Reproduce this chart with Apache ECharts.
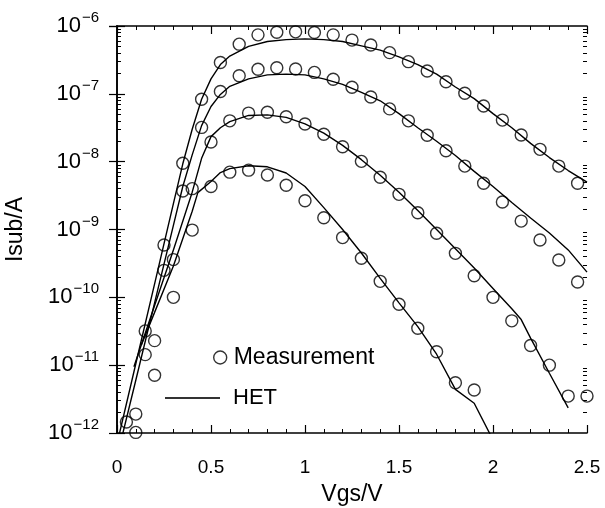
<!DOCTYPE html>
<html>
<head>
<meta charset="utf-8">
<script src="https://cdn.jsdelivr.net/npm/echarts@6/dist/echarts.min.js"></script>
<style>
html,body{margin:0;padding:0;background:#fff;}
#chart{width:605px;height:508px;}
</style>
</head>
<body>
<div id="chart"></div>
<script>
// ---- Measurement data (Vgs in V, Isub in A) ----
const measX1 = [0.05,0.15,0.25,0.35,0.45,0.55,0.65,0.75,0.85,0.95,1.05,1.15,1.25,1.35,1.45,1.55,1.65,1.75,1.85,1.95,2.05,2.15,2.25,2.35,2.45];
const meas1 = [1.45e-12,3.2e-11,5.9e-10,9.5e-9,8.3e-8,2.9e-7,5.4e-7,7.4e-7,8.1e-7,8.2e-7,8.0e-7,7.4e-7,6.2e-7,5.25e-7,4.05e-7,2.98e-7,2.17e-7,1.51e-7,1.02e-7,6.6e-8,4.1e-8,2.47e-8,1.52e-8,8.6e-9,4.8e-9];
const measX2 = [0.15,0.25,0.35,0.45,0.55,0.65,0.75,0.85,0.95,1.05,1.15,1.25,1.35,1.45,1.55,1.65,1.75,1.85,1.95,2.05,2.15,2.25,2.35,2.45];
const meas2 = [1.43e-11,2.5e-10,3.7e-9,3.2e-8,1.08e-7,1.85e-7,2.3e-7,2.43e-7,2.32e-7,2.07e-7,1.64e-7,1.25e-7,9.0e-8,6.0e-8,4.0e-8,2.45e-8,1.45e-8,8.6e-9,4.8e-9,2.54e-9,1.33e-9,7.0e-10,3.55e-10,1.68e-10];
const measX3 = [0.1,0.2,0.3,0.4,0.5,0.6,0.7,0.8,0.9,1.0,1.1,1.2,1.3,1.4,1.5,1.6,1.7,1.8,1.9,2.0,2.1,2.2,2.3,2.4,2.5];
const meas3 = [1.9e-12,2.3e-11,3.6e-10,4.0e-9,1.95e-8,4.0e-8,5.2e-8,5.35e-8,4.6e-8,3.6e-8,2.53e-8,1.66e-8,1.01e-8,5.9e-9,3.3e-9,1.77e-9,8.8e-10,4.45e-10,2.08e-10,1.0e-10,4.5e-11,1.95e-11,1.0e-11,3.5e-12,3.5e-12];
const measX4 = [0.1,0.2,0.3,0.4,0.5,0.6,0.7,0.8,0.9,1.0,1.1,1.2,1.3,1.4,1.5,1.6,1.7,1.8,1.9];
const meas4 = [1.02e-12,7.1e-12,1.0e-10,9.8e-10,4.3e-9,7.0e-9,7.5e-9,6.35e-9,4.5e-9,2.66e-9,1.49e-9,7.6e-10,3.76e-10,1.72e-10,7.9e-11,3.5e-11,1.58e-11,5.5e-12,4.3e-12];

// ---- HET model curves ----
const hetX1 = [0.0,0.1,0.2,0.3,0.35,0.4,0.45,0.5,0.55,0.6,0.7,0.8,0.9,1.0,1.1,1.2,1.3,1.4,1.5,1.6,1.7,1.8,1.9,2.0,2.1,2.2,2.3,2.4,2.5];
const het1  = [6.9e-13,1.05e-11,1.58e-10,2.4e-9,9.3e-9,3.0e-8,8.3e-8,1.66e-7,2.7e-7,3.6e-7,5.0e-7,5.9e-7,6.3e-7,6.45e-7,6.3e-7,5.9e-7,5.1e-7,4.4e-7,3.5e-7,2.7e-7,1.95e-7,1.26e-7,8.5e-8,5.1e-8,3.16e-8,1.86e-8,1.15e-8,7.4e-9,5.0e-9];
const hetX2 = [0.0,0.1,0.2,0.3,0.35,0.4,0.45,0.5,0.55,0.6,0.7,0.8,0.9,1.0,1.1,1.2,1.3,1.4,1.5,1.6,1.7,1.8,1.9,2.0,2.1,2.2,2.3,2.4,2.5];
const het2  = [4.4e-13,6.0e-12,8.3e-11,1.15e-9,4.3e-9,1.26e-8,3.4e-8,6.5e-8,9.8e-8,1.29e-7,1.66e-7,1.9e-7,1.95e-7,1.9e-7,1.66e-7,1.38e-7,1.05e-7,7.9e-8,5.1e-8,3.16e-8,2.0e-8,1.23e-8,7.2e-9,4.3e-9,2.5e-9,1.48e-9,8.9e-10,5.0e-10,2.35e-10];
const hetX3 = [0.09,0.2,0.3,0.4,0.45,0.5,0.55,0.6,0.7,0.8,0.9,1.0,1.1,1.2,1.3,1.4,1.5,1.6,1.7,1.8,1.9,2.0,2.1,2.15,2.2,2.3,2.4];
const het3  = [9.5e-12,7.6e-11,5.0e-10,3.55e-9,1.12e-8,2.34e-8,3.16e-8,3.9e-8,4.8e-8,4.9e-8,4.5e-8,3.6e-8,2.63e-8,1.74e-8,1.07e-8,6.3e-9,3.55e-9,1.9e-9,1.0e-9,5.2e-10,2.7e-10,1.35e-10,6.8e-11,4.7e-11,2.5e-11,7.6e-12,2.34e-12];
const hetX4 = [0.13,0.2,0.3,0.4,0.43,0.5,0.55,0.6,0.7,0.8,0.9,1.0,1.1,1.2,1.3,1.4,1.5,1.6,1.7,1.8,1.9,2.0];
const het4  = [2.0e-11,6.0e-11,2.9e-10,1.86e-9,3.5e-9,5.1e-9,6.9e-9,7.9e-9,8.7e-9,8.4e-9,6.8e-9,4.3e-9,2.1e-9,1.0e-9,4.5e-10,1.9e-10,8.3e-11,3.7e-11,1.45e-11,4.4e-12,2.75e-12,7.9e-13];

// ---- Axis ticks ----
const xTicks = {min: 0, max: 2.5, interval: 0.5};
const yDecades = [1e-12,1e-11,1e-10,1e-9,1e-8,1e-7,1e-6];
const yMinorMultipliers = [2,3,4,5,6,7,8,9];

function pairs(xs, ys){ return xs.map((x,i)=>[x, ys[i]]); }
// minor tick positions expressed as decade exponents (for a helper linear axis spanning the same decades)
const yExpMin = Math.round(Math.log10(yDecades[0]));
const yExpMax = Math.round(Math.log10(yDecades[yDecades.length-1]));
const yMinorExp = [];
yDecades.slice(0,-1).forEach(d => yMinorMultipliers.forEach(m => yMinorExp.push(Math.log10(m*d))));

const FONT = '"Liberation Sans", Arial, sans-serif';
const chart = echarts.init(document.getElementById('chart'), null, {renderer:'canvas'});

function yLabel(v){
  const e = Math.round(Math.log10(v));
  return '{b|10}{s|\u2212' + (-e) + '}';
}

const axisLineStyle = {show:true, lineStyle:{color:'#000', width:1.6}};
const majorTick = {show:true, inside:true, length:8, lineStyle:{color:'#000', width:1.2}};
const minorTick = {show:true, length:4, lineStyle:{color:'#000', width:1}};

const measStyle = {color:'rgba(0,0,0,0)', borderColor:'#000', borderWidth:1.4};
function measSeries(xs, ys){
  return {name:'Measurement', type:'scatter', data:pairs(xs, ys), symbol:'circle', symbolSize:12,
          itemStyle:measStyle, xAxisIndex:0, yAxisIndex:0, z:3, silent:true};
}
function hetSeries(xs, ys){
  return {name:'HET', type:'line', data:pairs(xs, ys), symbol:'none', showSymbol:false, smooth:false,
          lineStyle:{color:'#000', width:1.4}, itemStyle:{color:'#000'}, xAxisIndex:0, yAxisIndex:0, z:2, clip:true, silent:true};
}
function minorYAxis(pos){
  return {type:'value', min:yExpMin, max:yExpMax, position:pos, offset:0,
          axisLine:{show:false}, splitLine:{show:false}, axisLabel:{show:false},
          axisTick:{show:true, inside:true, length:4, customValues:yMinorExp, lineStyle:{color:'#000', width:1}}};
}

const option = {
  animation:false,
  backgroundColor:'#fff',
  textStyle:{fontFamily:FONT},
  grid:{left:117, right:18, top:26, bottom:75, containLabel:false, outerBoundsMode:'none'},
  xAxis:[
    {type:'value', min:xTicks.min, max:xTicks.max, interval:xTicks.interval, position:'bottom',
     name:'Vgs/V', nameLocation:'middle', nameGap:50, nameMoveOverlap:false,
     nameTextStyle:{fontSize:23, color:'#000', fontFamily:FONT},
     axisLine:axisLineStyle, axisTick:majorTick, minorTick:Object.assign({splitNumber:5}, minorTick),
     splitLine:{show:false}, minorSplitLine:{show:false},
     axisLabel:{fontSize:19, color:'#000', margin:25, fontFamily:FONT}},
    {type:'value', min:xTicks.min, max:xTicks.max, interval:xTicks.interval, position:'top',
     axisLine:axisLineStyle, axisTick:majorTick, minorTick:Object.assign({splitNumber:5}, minorTick),
     splitLine:{show:false}, axisLabel:{show:false}}
  ],
  yAxis:[
    {type:'log', logBase:10, min:yDecades[0], max:yDecades[yDecades.length-1], interval:1, position:'left', offset:0,
     name:'Isub/A', nameLocation:'middle', nameGap:90, nameRotate:90, nameMoveOverlap:false,
     nameTextStyle:{fontSize:23, color:'#000', fontFamily:FONT},
     axisLine:axisLineStyle, axisTick:majorTick, minorTick:{show:false},
     splitLine:{show:false}, minorSplitLine:{show:false},
     axisLabel:{margin:18, color:'#000', formatter:yLabel, fontFamily:FONT,
       rich:{b:{fontSize:22, color:'#000', fontFamily:FONT},
             s:{fontSize:15, color:'#000', fontFamily:FONT, verticalAlign:'top', padding:[0,0,16,1]}}}},
    {type:'log', logBase:10, min:yDecades[0], max:yDecades[yDecades.length-1], interval:1, position:'right', offset:0,
     axisLine:axisLineStyle, axisTick:majorTick, minorTick:{show:false},
     splitLine:{show:false}, axisLabel:{show:false}},
    minorYAxis('left'),
    minorYAxis('right')
  ],
  legend:[
    {data:['Measurement'], left:208, top:341, orient:'vertical', itemWidth:13, itemHeight:13, selectedMode:false,
     itemStyle:{color:'rgba(0,0,0,0)', borderColor:'#000', borderWidth:1.4},
     textStyle:{fontSize:23, color:'#000', fontFamily:FONT, padding:[0,0,0,2]}},
    {data:[{name:'HET', icon:'rect'}], left:160, top:382, orient:'vertical', itemWidth:55, itemHeight:2, selectedMode:false,
     itemStyle:{color:'#333'},
     textStyle:{fontSize:22, color:'#000', fontFamily:FONT, padding:[0,0,0,8]}}
  ],
  series:[
    hetSeries(hetX1, het1), hetSeries(hetX2, het2), hetSeries(hetX3, het3), hetSeries(hetX4, het4),
    measSeries(measX1, meas1), measSeries(measX2, meas2), measSeries(measX3, meas3), measSeries(measX4, meas4)
  ]
};
chart.setOption(option);
</script>
</body>
</html>
